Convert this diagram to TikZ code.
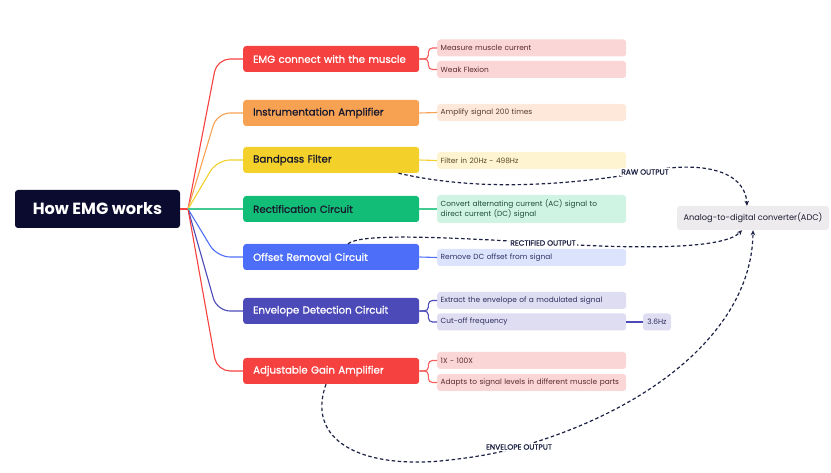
\documentclass[tikz,border=0pt]{standalone}
\usepackage{fontspec}
\setmainfont{Poppins}
\newfontfamily\semib[FakeBold=1.1]{Poppins}
\usetikzlibrary{arrows.meta,calc}
\definecolor{cRoot}{HTML}{0A0B2E}
\definecolor{cRed}{HTML}{F5413F}
\definecolor{cOrange}{HTML}{F7A153}
\definecolor{cYellow}{HTML}{F3D02A}
\definecolor{cGreen}{HTML}{12BE77}
\definecolor{cBlue}{HTML}{4D6EF8}
\definecolor{cIndigo}{HTML}{4C4AB8}
\definecolor{tRed}{HTML}{FBD6D6}
\definecolor{tOrange}{HTML}{FDE8DA}
\definecolor{tYellow}{HTML}{FEF4D2}
\definecolor{tGreen}{HTML}{CFF4E4}
\definecolor{tBlue}{HTML}{DCE3FC}
\definecolor{tIndigo}{HTML}{DEDDF2}
\definecolor{tGray}{HTML}{EEEBEF}
\definecolor{xRed}{HTML}{5A2A2A}
\definecolor{xOrange}{HTML}{5A3A2A}
\definecolor{xYellow}{HTML}{5A4A20}
\definecolor{xGreen}{HTML}{1E4A3A}
\definecolor{xBlue}{HTML}{2A3366}
\definecolor{xIndigo}{HTML}{2E2D5C}
\definecolor{cDash}{HTML}{1C2143}
\definecolor{cDark}{HTML}{1A1A2E}
\tikzset{
  rootbox/.style={fill=cRoot, text=white, rounded corners=3pt, minimum width=165pt, minimum height=38pt, inner sep=0pt, font=\fontsize{16.2}{19}\selectfont\bfseries},
  lvlbox/.style={fill=#1, rounded corners=3pt, anchor=west, minimum height=26pt, text width=156pt, inner xsep=10pt, inner ysep=0pt, align=left, font=\fontsize{10.2}{12}\selectfont\semib},
  kidbox/.style={fill=#1, rounded corners=3pt, anchor=west, minimum height=17pt, text width=182pt, inner xsep=3.5pt, inner ysep=0pt, align=left, font=\fontsize{7.4}{9.2}\selectfont},
  branch/.style={draw=#1, line width=1.1pt},
  flow/.style={draw=cDash, line width=1.2pt, dash pattern=on 3.5pt off 2.5pt, -{Stealth[length=5pt,width=4.5pt]}},
  flowlabel/.style={fill=white, inner sep=1pt, text=cDash, font=\fontsize{7.5}{8}\selectfont\semib},
}
\begin{document}
\begin{tikzpicture}[x=1pt,y=-1pt]
\useasboundingbox (0,0) rectangle (831,473);
% root
\node[rootbox] (root) at (97.5,209) {How EMG works};
\coordinate (hub) at (188,209);
% level 1
\node[lvlbox=cRed, text=white] (b1) at (243,59) {EMG connect with the muscle};
\node[lvlbox=cOrange, text=cDark] (b2) at (243,113) {Instrumentation Amplifier};
\node[lvlbox=cYellow, text=cDark] (b3) at (243,160) {Bandpass Filter};
\node[lvlbox=cGreen, text=cDark] (b4) at (243,209) {Rectification Circuit};
\node[lvlbox=cBlue, text=white] (b5) at (243,257) {Offset Removal Circuit};
\node[lvlbox=cIndigo, text=white] (b6) at (243,311) {Envelope Detection Circuit};
\node[lvlbox=cRed, text=white] (b7) at (243,371) {Adjustable Gain Amplifier};
% children
\node[kidbox=tRed, text=xRed] (c11) at (437,48) {Measure muscle current};
\node[kidbox=tRed, text=xRed] (c12) at (437,69.5) {Weak Flexion};
\node[kidbox=tOrange, text=xOrange] (c21) at (437,112.5) {Amplify signal 200 times};
\node[kidbox=tYellow, text=xYellow] (c31) at (437,160.5) {Filter in 20Hz - 498Hz};
\node[kidbox=tGreen, text=xGreen, minimum height=28pt] (c41) at (437,209) {Convert alternating current (AC) signal to\\direct current (DC) signal};
\node[kidbox=tBlue, text=xBlue] (c51) at (437,257.5) {Remove DC offset from signal};
\node[kidbox=tIndigo, text=xIndigo] (c61) at (437,300.5) {Extract the envelope of a modulated signal};
\node[kidbox=tIndigo, text=xIndigo] (c62) at (437,322) {Cut-off frequency};
\node[fill=tIndigo, text=xIndigo, rounded corners=3pt, minimum width=28pt, minimum height=17pt, inner sep=0pt, font=\fontsize{7.4}{9.2}\selectfont] (c63) at (657,322) {3.6Hz};
\node[kidbox=tRed, text=xRed] (c71) at (437,360.5) {1X - 100X};
\node[kidbox=tRed, text=xRed] (c72) at (437,382.5) {Adapts to signal levels in different muscle parts};
% ADC
\node[fill=tGray, text=cDark, rounded corners=3pt, minimum width=152pt, minimum height=24pt, inner sep=0pt, font=\fontsize{8.2}{10}\selectfont] (adc) at (753,218) {Analog-to-digital converter(ADC)};
% root branches
\draw[branch=cRed] (root.east) -- (hub);
\foreach \b/\c in {b1/cRed, b2/cOrange, b3/cYellow, b5/cBlue, b6/cIndigo, b7/cRed}{
  \draw[branch=\c, rounded corners=13pt] (hub) -- ($(hub |- \b.west)+(29,0)$) -- (\b.west);
}
\draw[branch=cGreen!80] (hub) -- (b4.west);
% child branches
\draw[branch=cRed!85, rounded corners=4pt] (b1.east) -- ++(9,0) |- (c11.west);
\draw[branch=cRed!85, rounded corners=4pt] (b1.east) -- ++(9,0) |- (c12.west);
\draw[branch=cOrange] (b2.east) -- (c21.west);
\draw[branch=cYellow] (b3.east) -- (c31.west);
\draw[branch=cGreen!80] (b4.east) -- (c41.west);
\draw[branch=cBlue] (b5.east) -- (c51.west);
\draw[branch=cIndigo, rounded corners=4pt] (b6.east) -- ++(9,0) |- (c61.west);
\draw[branch=cIndigo, rounded corners=4pt] (b6.east) -- ++(9,0) |- (c62.west);
\draw[branch=cIndigo] (c62.east) -- (c63.west);
\draw[branch=cRed!85, rounded corners=4pt] (b7.east) -- ++(9,0) |- (c71.west);
\draw[branch=cRed!85, rounded corners=4pt] (b7.east) -- ++(9,0) |- (c72.west);
% flows
\coordinate (rawS) at ($(b3.south east)+(-21,0)$);
\coordinate (recS) at ($(b5.north west)+(105,0)$);
\coordinate (envS) at ($(b7.south west)+(83,0)$);
\coordinate (adcA) at ($(adc.north)+(-6,0)$);
\coordinate (adcB) at ($(adc.south)+(-11,0)$);
\coordinate (adcC) at (adc.south);
\draw[flow] (rawS) .. controls (480,192) and (570,185) .. (645,172)
  node[flowlabel] {RAW OUTPUT}
  .. controls (700,160) and (745,170) .. (adcA);
\draw[flow] (recS) .. controls (360,234) and (430,236) .. (543,243)
  node[flowlabel] {RECTIFIED OUTPUT}
  .. controls (650,250) and (725,248) .. (adcB);
\draw[flow] (envS) .. controls (306,440) and (360,468) .. (440,461)
  .. controls (470,458) and (495,454) .. (519,447)
  node[flowlabel] {ENVELOPE OUTPUT}
  .. controls (650,410) and (752,330) .. (adcC);
\end{tikzpicture}
\end{document}
